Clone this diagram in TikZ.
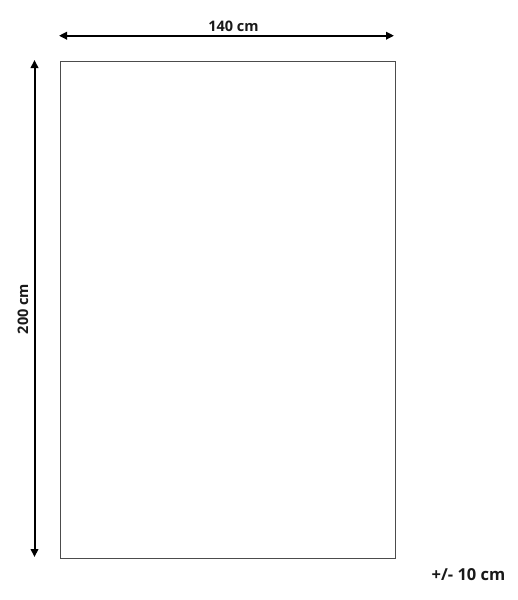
\documentclass[tikz,border=0pt]{standalone}
\usepackage{fontspec}
\setmainfont{Open Sans}
\usetikzlibrary{arrows.meta}
\begin{document}
\begin{tikzpicture}[x=1pt,y=-1pt,
  dim/.style={line width=2pt,{Triangle[length=8pt,width=7.5pt]}-{Triangle[length=8pt,width=7.5pt]}},
  lbl/.style={font=\fontsize{14.5}{16}\selectfont\bfseries,inner sep=0pt,text=black!90}]
\useasboundingbox (0,0) rectangle (517,600);
\node[draw=black!70,line width=1pt,minimum width=335pt,minimum height=497pt,inner sep=0pt,anchor=north west] (rug) at (59.5,60.5) {};
\coordinate (tl) at (59,35.7);
\coordinate (tr) at (394,35.7);
\coordinate (lt) at (34.5,60);
\coordinate (lb) at (34.5,557);
\draw[dim] (tl) -- (tr);
\draw[dim] (lt) -- (lb);
\node[lbl] (w) at (233.5,26) {140 cm};
\node[lbl,rotate=90] (h) at (23,309) {200 cm};
\node[lbl,font=\fontsize{16.5}{18}\selectfont\bfseries] (tol) at (468.5,575) {+/- 10 cm};
\end{tikzpicture}
\end{document}
